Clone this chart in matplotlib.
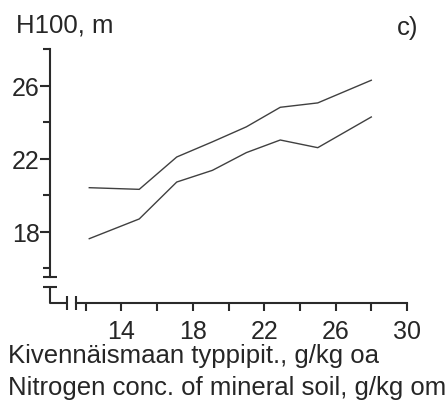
import matplotlib
matplotlib.use("Agg")
import matplotlib.pyplot as plt
from matplotlib.ticker import FixedLocator

plt.rcParams['font.family'] = ['Liberation Sans', 'DejaVu Sans']

# Data
n_conc = [12.2, 15.0, 17.1, 19.1, 21.0, 22.9, 25.0, 28.0]
h100_upper = [20.41, 20.32, 22.09, 22.92, 23.74, 24.81, 25.05, 26.29]
h100_lower = [17.62, 18.70, 20.72, 21.36, 22.33, 23.02, 22.60, 24.28]

x_major = [14, 18, 22, 26, 30]
x_minor = [12, 16, 20, 24, 28]
y_major = [18, 22, 26]
y_minor = [16, 20, 24, 28]

ylabel_text = "H100, m"
panel_text = "c)"
xlabel_fi = "Kivennäismaan typpipit., g/kg oa"
xlabel_en = "Nitrogen conc. of mineral soil, g/kg om"

FS = 18
FS_LAB = 18.5
TXT_COL = '#262626'
AX_COL = '#2a2a2a'
LINE_COL = '#404040'
AX_LW = 1.5

fig = plt.figure(figsize=(4.46, 4.02), dpi=100)
ax = fig.add_axes([50/446, 98/402, 357/446, 254/402])

ax.plot(n_conc, h100_upper, color=LINE_COL, lw=1.0)
ax.plot(n_conc, h100_lower, color=LINE_COL, lw=1.0)

ax.set_xlim(10, 30)
ax.set_ylim(14.1, 28)

for s in ['top', 'right']:
    ax.spines[s].set_visible(False)
for s in ['left', 'bottom']:
    ax.spines[s].set_color(AX_COL)
    ax.spines[s].set_linewidth(AX_LW)
ax.spines['left'].set_bounds(15.5, 28)
ax.spines['bottom'].set_bounds(11.43, 30)

ax.xaxis.set_major_locator(FixedLocator(x_major))
ax.xaxis.set_minor_locator(FixedLocator(x_minor))
ax.yaxis.set_major_locator(FixedLocator(y_major))
ax.yaxis.set_minor_locator(FixedLocator(y_minor))

ax.tick_params(axis='y', which='major', length=7, width=AX_LW, color=AX_COL,
               labelsize=FS, pad=0.5, direction='out', labelcolor=TXT_COL)
ax.tick_params(axis='y', which='minor', length=5, width=AX_LW, color=AX_COL, direction='out')
ax.tick_params(axis='x', which='both', length=6, width=AX_LW, color=AX_COL,
               labelsize=FS, pad=5.5, direction='out', labelcolor=TXT_COL)

# axis-break decorations
brk = dict(color=AX_COL, lw=AX_LW, clip_on=False, solid_capstyle='butt')
dx = 0.39   # half cap width (x units)
dy = 0.36   # half cap height (y units)
ax.plot([10 - dx, 10 + dx], [15.5, 15.5], **brk)
ax.plot([10 - dx, 10 + dx], [14.95, 14.95], **brk)
ax.plot([10, 10, 10.93], [14.95, 14.1, 14.1], **brk)
ax.plot([10.93, 10.93], [14.1 - dy, 14.1 + dy], **brk)
ax.plot([11.43, 11.43], [14.1 - dy, 14.1 + dy], **brk)

fig.text(15.5/446, 1 - 32/402, ylabel_text, fontsize=FS_LAB, color=TXT_COL, va='baseline', ha='left')
fig.text(418/446, 1 - 34.5/402, panel_text, fontsize=FS_LAB, color=TXT_COL, va='baseline', ha='right')
fig.text(8/446, 1 - 363.5/402, xlabel_fi, fontsize=FS_LAB, color=TXT_COL, va='baseline', ha='left')
fig.text(8/446, 1 - 395/402, xlabel_en, fontsize=FS_LAB, color=TXT_COL, va='baseline', ha='left')

fig.savefig('out.png', dpi=100)
